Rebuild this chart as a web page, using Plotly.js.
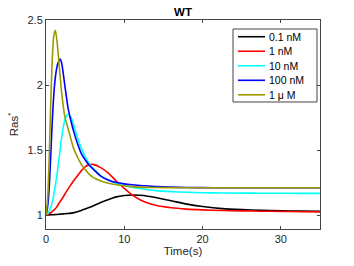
<!DOCTYPE html>
<html>
<head>
<meta charset="utf-8">
<script src="https://cdn.plot.ly/plotly-3.0.1.min.js"></script>
<style>html,body{margin:0;padding:0;background:#fff;}#chart{width:354px;height:266px;}</style>
</head>
<body>
<div id="chart"></div>
<script>
var time = [0,0.2,0.4,0.6,0.8,1.0,1.2,1.4,1.6,1.8,2.0,2.4,2.8,3.2,3.6,4,4.5,5,5.5,6,7,8,9,10,11,12,13,14,16,18,20,22.5,25,27.5,30,32.5,35];
var seriesNames = ["0.1 nM","1 nM","10 nM","100 nM","1 \u03bc M"];
var ras01nM = [1,1.001,1.001,1.002,1.002,1.003,1.004,1.005,1.006,1.007,1.008,1.01,1.012,1.015,1.019,1.025,1.035,1.047,1.058,1.07,1.097,1.12,1.14,1.15,1.155,1.152,1.145,1.135,1.11,1.084,1.066,1.05,1.042,1.037,1.033,1.031,1.03];
var ras1nM = [1,1.004,1.01,1.018,1.027,1.038,1.05,1.065,1.085,1.105,1.12,1.16,1.20,1.235,1.27,1.30,1.34,1.37,1.388,1.39,1.365,1.32,1.26,1.205,1.155,1.118,1.092,1.075,1.056,1.046,1.04,1.035,1.032,1.03,1.028,1.026,1.025];
var ras10nM = [1,1.01,1.03,1.06,1.10,1.16,1.23,1.31,1.41,1.50,1.60,1.73,1.775,1.75,1.68,1.60,1.515,1.45,1.395,1.36,1.30,1.27,1.245,1.228,1.215,1.204,1.195,1.188,1.18,1.175,1.172,1.17,1.169,1.168,1.168,1.167,1.167];
var ras100nM = [1,1.06,1.2,1.45,1.72,1.93,2.06,2.14,2.18,2.2,2.17,2.0,1.83,1.72,1.63,1.555,1.475,1.425,1.385,1.355,1.30,1.268,1.25,1.24,1.233,1.228,1.224,1.22,1.215,1.212,1.211,1.21,1.21,1.21,1.21,1.21,1.21];
var ras1uM = [1,1.12,1.42,1.85,2.2,2.38,2.42,2.34,2.21,2.07,1.94,1.76,1.67,1.58,1.50,1.45,1.39,1.35,1.315,1.29,1.263,1.245,1.233,1.225,1.219,1.215,1.213,1.212,1.211,1.21,1.21,1.21,1.21,1.21,1.21,1.21,1.21];
var xTicks = [0,10,20,30];
var yTicks = [1,1.5,2,2.5];

var colors = ["#000000","#ff0000","#00ffff","#0000ff","#9b9b00"];
var FONT = 'Liberation Sans, Arial, sans-serif';
var data = [ras01nM, ras1nM, ras10nM, ras100nM, ras1uM].map(function(v,i){
  return {x: time, y: v, type: 'scatter', mode: 'lines', name: seriesNames[i], showlegend: false,
          line: {color: colors[i], width: 1.6, shape: 'spline', smoothing: 0.6}};
});

// legend box drawn in the plot-area (paper) frame
var legX0 = 0.6825, legX1 = 0.989, legY0 = 0.6077, legY1 = 0.957;
var rowTop = 0.920, rowStep = 0.0695;
var sampleX0 = 0.7007, sampleX1 = 0.7993, labelX = 0.8066;
var shapes = [{type: 'rect', xref: 'paper', yref: 'paper', x0: legX0, x1: legX1, y0: legY0, y1: legY1,
               line: {color: '#444', width: 1}, fillcolor: '#fff', layer: 'above'}];
var annotations = [];
seriesNames.forEach(function(name, i){
  var yy = rowTop - i * rowStep;
  shapes.push({type: 'line', xref: 'paper', yref: 'paper', x0: sampleX0, x1: sampleX1, y0: yy, y1: yy,
               line: {color: colors[i], width: 1.6}, layer: 'above'});
  annotations.push({xref: 'paper', yref: 'paper', x: labelX, y: yy, xanchor: 'left', yanchor: 'middle',
               text: name, showarrow: false, font: {family: FONT, size: 10.5, color: '#000'}});
});

var axisCommon = {showline: true, linecolor: '#444', linewidth: 1, mirror: 'allticks',
  ticks: 'inside', ticklen: 3, tickcolor: '#444', showgrid: false, zeroline: false,
  tickfont: {family: FONT, size: 11, color: '#262626'}};

var layout = {
  width: 354, height: 266,
  margin: {l: 46, r: 34, t: 20, b: 37},
  paper_bgcolor: '#fff', plot_bgcolor: '#fff',
  title: {text: '<b>WT</b>', x: 0.517, xanchor: 'center', y: 0.955, yanchor: 'middle',
          font: {family: FONT, size: 11.5, color: '#000'}},
  xaxis: Object.assign({}, axisCommon, {range: [0, 35], tickvals: xTicks, ticktext: xTicks.map(String),
    title: {text: 'Time(s)', standoff: 1, font: {family: FONT, size: 11.5, color: '#262626'}}}),
  yaxis: Object.assign({}, axisCommon, {range: [0.893, 2.5], tickvals: yTicks, ticktext: yTicks.map(String),
    title: {text: 'Ras<sup>*</sup>', standoff: 6, font: {family: FONT, size: 11.5, color: '#262626'}}}),
  showlegend: false,
  shapes: shapes,
  annotations: annotations
};

Plotly.newPlot('chart', data, layout, {staticPlot: true, displayModeBar: false});
</script>
</body>
</html>
